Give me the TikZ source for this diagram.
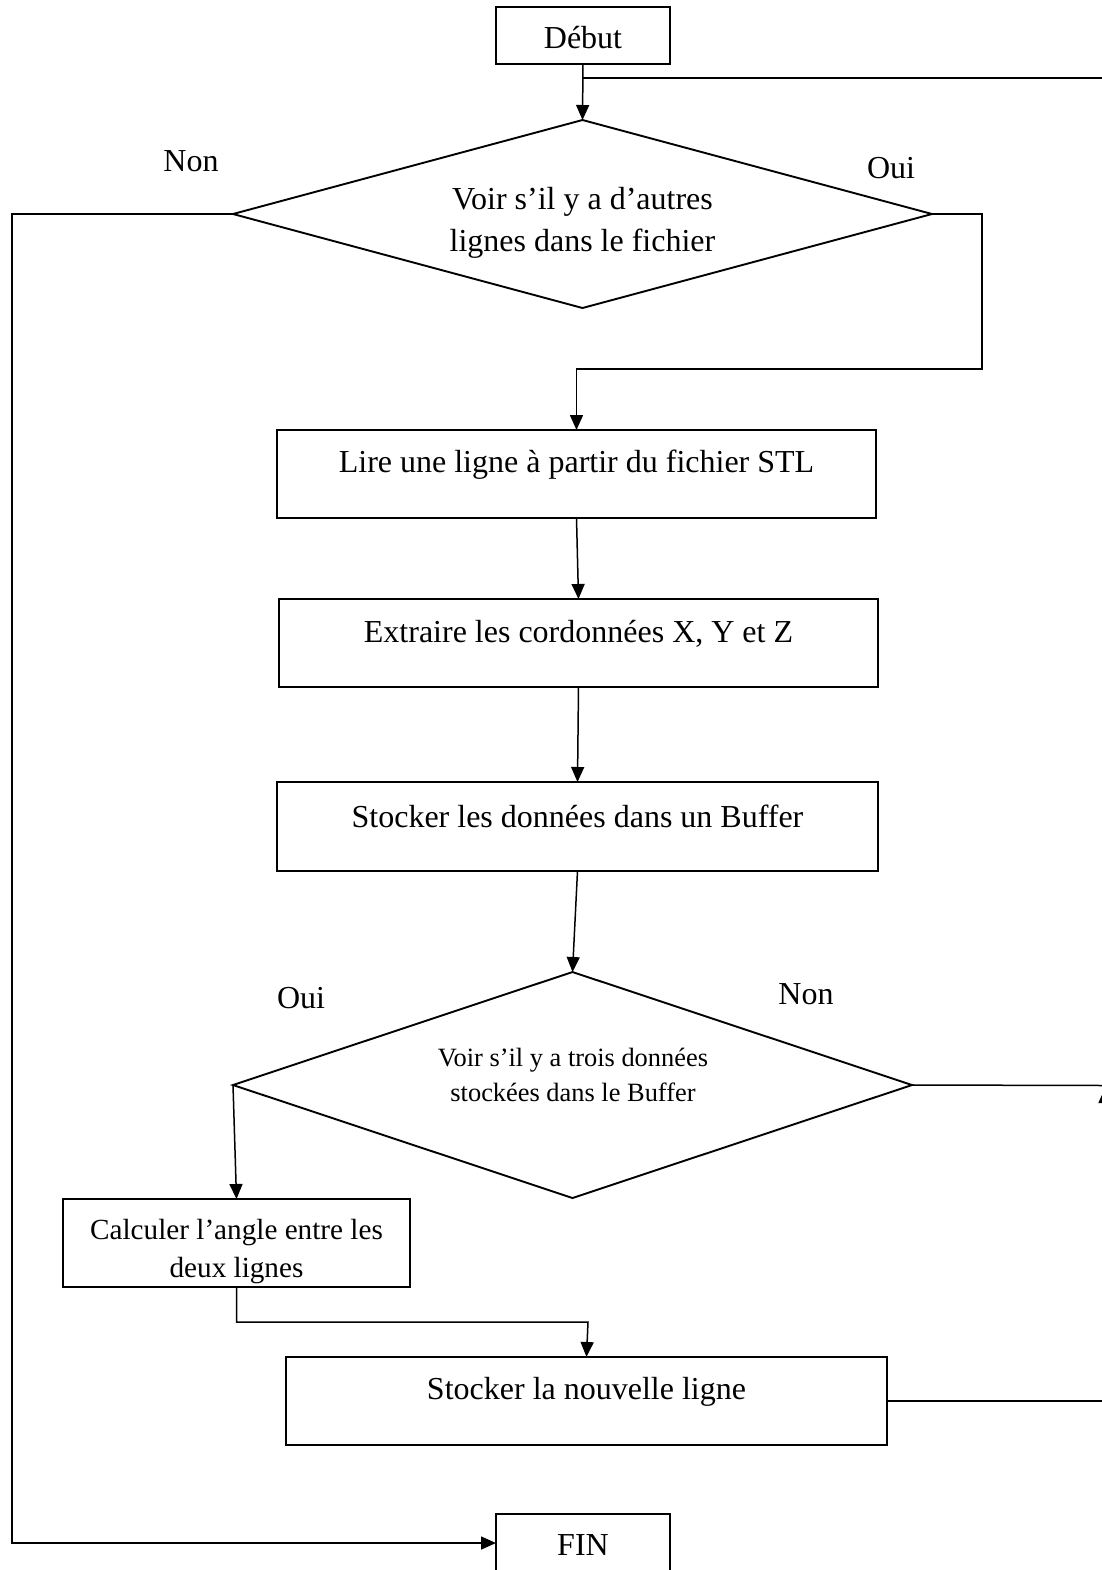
\documentclass[tikz,border=0pt]{standalone}
\usepackage{fontspec}
\setmainfont{Liberation Serif}
\usetikzlibrary{arrows.meta,shapes.geometric}
\begin{document}
\begin{tikzpicture}[x=0.5pt,y=-0.5pt,
  line width=0.75pt,
  every node/.style={inner sep=0pt,outer sep=0pt},
  txt/.style={font=\fontsize{16}{21}\selectfont,align=center},
  boxnode/.style={draw,rectangle,line width=0.75pt},
  decision/.style={draw,diamond,line width=0.95pt},
  arr/.style={-{Triangle[length=7.5pt,width=6.5pt]}}]
\clip (0,0) rectangle (1102,1570);
\useasboundingbox (0,0) rectangle (1102,1570);

% process boxes
\node[boxnode,minimum width=87pt,minimum height=28.5pt] (debut) at (583,35.5) {};
\node[txt] (debutt) at (583,37.5) {Début};
\node[decision,minimum width=349.5pt,minimum height=94pt] (d1) at (582.5,214) {};
\node[txt] (d1t) at (582.5,223) {Voir s’il y a d’autres\\lignes dans le fichier};
\node[boxnode,minimum width=299.5pt,minimum height=44pt,
      label={[txt,yshift=4.5pt]center:Lire une ligne à partir du fichier STL}] (lire) at (576.5,474) {};
\node[boxnode,minimum width=299.5pt,minimum height=44pt,
      label={[txt,yshift=4.5pt]center:Extraire les cordonnées X, Y et Z}] (extr) at (578.5,643) {};
\node[boxnode,minimum width=300.5pt,minimum height=44.5pt,
      label={[txt,yshift=5pt]center:Stocker les données dans un Buffer}] (stock) at (577.5,826.5) {};
\node[decision,minimum width=339.5pt,minimum height=113pt] (d2) at (572.5,1085) {};
\node[font=\fontsize{13.2}{17.5}\selectfont,align=center] (d2t) at (573,1075)
      {Voir s’il y a trois données\\stockées dans le Buffer};
\node[boxnode,minimum width=173.5pt,minimum height=44pt] (calc) at (236.5,1243) {};
\node[font=\fontsize{14.6}{19}\selectfont,align=center] (calct) at (236.5,1252)
      {Calculer l’angle entre les\\deux lignes};
\node[boxnode,minimum width=300.5pt,minimum height=44pt,
      label={[txt,yshift=4.5pt]center:Stocker la nouvelle ligne}] (nouv) at (586.5,1401) {};
\node[boxnode,minimum width=87pt,minimum height=29pt] (fin) at (583,1543) {};
\node[txt] (fint) at (583,1545) {FIN};

% branch labels
\node[txt] (l1) at (191,161) {Non};
\node[txt] (l2) at (891,168) {Oui};
\node[txt] (l3) at (301,998) {Oui};
\node[txt] (l4) at (806,994) {Non};

% routing points
\coordinate (jtop) at (583,78);
\coordinate (rtop) at (1105,78);
\coordinate (rjoin) at (1105,1088);
\coordinate (rmid) at (1105,1085.5);
\coordinate (c1) at (982,369);
\coordinate (c2) at (12,1543);
\coordinate (c3) at (588,1322);

% connectors
\draw[arr] (debut.south) -- (d1.north);
\draw[arr] (d1.east) -| (c1) -| (lire.north);
\draw[arr] (d1.west) -| (c2) -- (fin.west);
\draw[arr] (lire.south) -- (extr.north);
\draw[arr] (extr.south) -- (stock.north);
\draw[arr] (stock.south) -- (d2.north);
\draw[arr] (d2.west) -- (calc.north);
\draw[arr] (calc.south) |- (c3) -- (nouv.north);
\draw (d2.east) -- (rmid);
\draw[arr] (nouv.east) -| (rjoin);
\draw (rmid) -- (rtop) -- (jtop);
\end{tikzpicture}
\end{document}
